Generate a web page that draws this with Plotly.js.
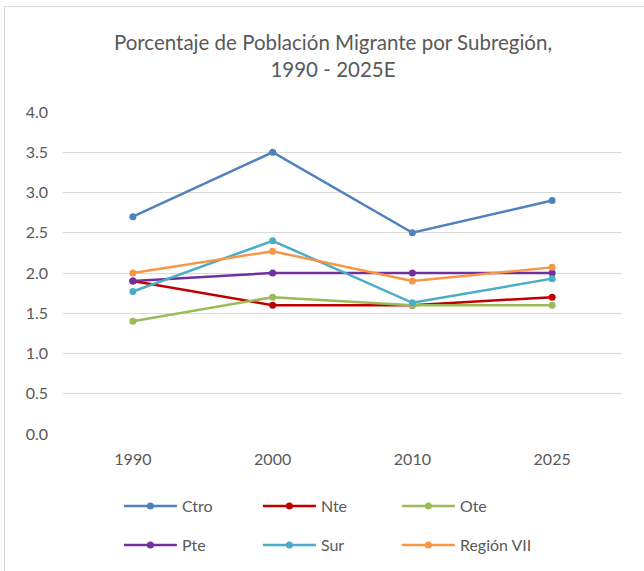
<!DOCTYPE html>
<html>
<head>
<meta charset="utf-8">
<script src="https://cdn.plot.ly/plotly-3.0.1.min.js"></script>
<style>
  html, body { margin: 0; padding: 0; background: #fff; }
  #frame { position: absolute; left: 4px; top: 6px; width: 700px; height: 600px; border: 1px solid #d9d9d9; }
  #chart { position: absolute; left: 0; top: 0; width: 644px; height: 571px; }
</style>
</head>
<body>
<div id="frame"></div>
<div id="chart"></div>
<script>
const categories = ["1990", "2000", "2010", "2025"];
const seriesNames = ["Ctro", "Nte", "Ote", "Pte", "Sur", "Región VII"];
const ctro = [2.7, 3.5, 2.5, 2.9];
const nte = [1.9, 1.6, 1.6, 1.7];
const ote = [1.4, 1.7, 1.6, 1.6];
const pte = [1.9, 2.0, 2.0, 2.0];
const sur = [1.77, 2.4, 1.63, 1.93];
const region7 = [2.0, 2.27, 1.9, 2.07];
const yTicks = [0, 0.5, 1, 1.5, 2, 2.5, 3, 3.5, 4];

const values = [ctro, nte, ote, pte, sur, region7];
const colors = ["#4f81bd", "#c00000", "#9bbb59", "#7030a0", "#4bacc6", "#f79646"];

const traces = values.map((v, i) => ({
  type: "scatter",
  mode: "lines+markers",
  name: seriesNames[i],
  x: categories,
  y: v,
  line: { color: colors[i], width: 2.5 },
  marker: { color: colors[i], size: 7, symbol: "circle" },
  legend: i < 3 ? "legend" : "legend2",
  hoverinfo: "x+y+name"
}));

const fontFam = "Lato, 'Open Sans', sans-serif";
const legendCommon = {
  orientation: "h",
  xref: "paper", yref: "paper",
  x: 0.1, xanchor: "left",
  yanchor: "middle",
  entrywidth: 71,
  itemwidth: 53,
  font: { family: fontFam, size: 16, color: "#595959" },
  bgcolor: "rgba(0,0,0,0)",
  borderwidth: 0,
  traceorder: "normal"
};

const layout = {
  width: 644,
  height: 571,
  paper_bgcolor: "rgba(0,0,0,0)",
  plot_bgcolor: "rgba(0,0,0,0)",
  margin: { l: 63, r: 22, t: 112, b: 137, autoexpand: false },
  font: { family: fontFam, size: 16, color: "#595959" },
  title: {
    text: "Porcentaje de Población Migrante por Subregión,<br>1990 - 2025E",
    font: { family: fontFam, size: 20.5, color: "#595959" },
    xref: "paper", x: 0.483, xanchor: "center",
    yref: "container", y: 1 - 50 / 571, yanchor: "middle"
  },
  xaxis: {
    type: "category",
    categoryorder: "array",
    categoryarray: categories,
    range: [-0.5, 3.5],
    showgrid: false,
    zeroline: false,
    showline: false,
    ticks: "",
    ticklabelstandoff: 14,
    tickfont: { family: fontFam, size: 16, color: "#595959" },
    fixedrange: true
  },
  yaxis: {
    range: [0, 4],
    tickvals: yTicks,
    tickformat: ".1f",
    showgrid: true,
    gridcolor: "#d9d9d9",
    gridwidth: 1,
    zeroline: false,
    showline: false,
    ticks: "",
    ticklabelstandoff: 14,
    tickfont: { family: fontFam, size: 16, color: "#595959" },
    fixedrange: true
  },
  legend: Object.assign({}, legendCommon, { y: -(506 - 434) / 322 }),
  legend2: Object.assign({}, legendCommon, { y: -(545 - 434) / 322 }),
  showlegend: true
};

Plotly.newPlot("chart", traces, layout, { displayModeBar: false, staticPlot: true });
</script>
</body>
</html>
